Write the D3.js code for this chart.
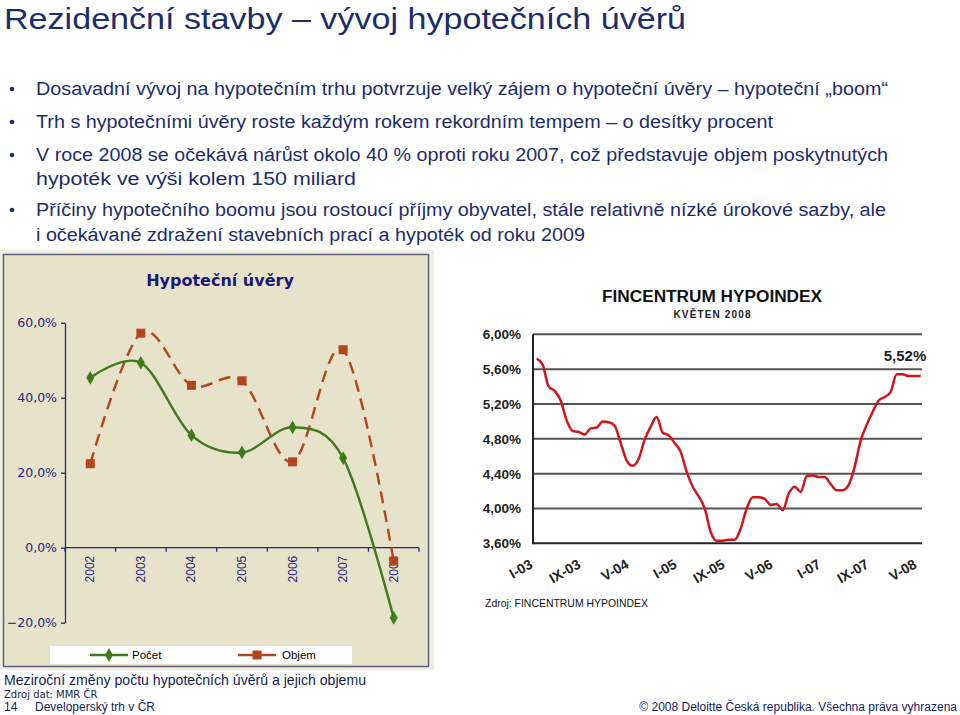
<!DOCTYPE html>
<html><head><meta charset="utf-8">
<script src="https://cdn.jsdelivr.net/npm/d3@7/dist/d3.min.js"></script>
<style>body{margin:0;background:#fff}svg{display:block}</style>
</head><body>
<script>
// ---- data ----
const pageTitle = "Rezidenční stavby – vývoj hypotečních úvěrů";
const bullets = [
  ["Dosavadní vývoj na hypotečním trhu  potvrzuje velký zájem o hypoteční úvěry – hypoteční „boom“"],
  ["Trh s hypotečními úvěry roste každým rokem rekordním tempem – o desítky procent"],
  ["V roce 2008 se očekává nárůst okolo 40 % oproti roku 2007, což představuje objem poskytnutých", "hypoték ve výši kolem 150 miliard"],
  ["Příčiny hypotečního boomu jsou rostoucí příjmy obyvatel, stále relativně nízké úrokové sazby, ale", "i očekávané zdražení stavebních prací a hypoték od roku 2009"]
];
const years = ["2002","2003","2004","2005","2006","2007","2008"];
const pocet = [45.3, 49.3, 30.0, 25.4, 32.1, 23.9, -18.7];
const objem = [22.4, 57.2, 43.3, 44.5, 22.9, 52.8, -3.6];
const leftTicks = [-20, 0, 20, 40, 60];

const hypoMonths = ["I-03","IX-03","V-04","I-05","IX-05","V-06","I-07","IX-07","V-08"];
const hypoTickIdx = [0, 8, 16, 24, 32, 40, 48, 56, 64];
const hypoTicks = [3.6, 4.0, 4.4, 4.8, 5.2, 5.6, 6.0];
const hypoindex = [5.72,5.65,5.40,5.35,5.24,5.01,4.89,4.88,4.85,4.92,4.93,5.00,4.99,4.95,4.75,4.55,
  4.49,4.57,4.79,4.94,5.05,4.87,4.84,4.75,4.65,4.42,4.25,4.14,4.00,3.73,3.63,3.63,3.64,3.64,3.77,4.00,
  4.13,4.13,4.11,4.04,4.05,3.98,4.17,4.25,4.19,4.37,4.38,4.36,4.36,4.28,4.21,4.21,4.27,4.48,4.78,4.96,
  5.11,5.24,5.28,5.34,5.54,5.54,5.52,5.52,5.52];

const W = 960, H = 715;
const svg = d3.select("body").append("svg").attr("width", W).attr("height", H);
const navy = "#1c2c6e";

// ---- header ----
svg.append("text").attr("x", 4).attr("y", 29).attr("font-family", "Liberation Sans, Arial")
  .attr("font-size", 30).attr("fill", navy).attr("textLength", 682).attr("lengthAdjust", "spacingAndGlyphs")
  .text(pageTitle);

const lineY = [[95],[128],[161,185],[216,241]];
const lineW = [[852],[737],[852,320],[850,549]];
bullets.forEach((b, i) => {
  svg.append("circle").attr("cx", 12).attr("cy", lineY[i][0] - 6).attr("r", 2.3).attr("fill", navy);
  b.forEach((t, j) => {
    svg.append("text").attr("x", 36).attr("y", lineY[i][j]).attr("font-family", "Liberation Sans, Arial")
      .attr("font-size", 18).attr("fill", navy)
      .attr("textLength", lineW[i][j]).attr("lengthAdjust", "spacingAndGlyphs").text(t);
  });
});

// ---- left chart ----
const L = svg.append("g");
L.append("rect").attr("x", 0).attr("y", 250).attr("width", 434).attr("height", 420).attr("fill", "#efeee0");
L.append("rect").attr("x", 3.5).attr("y", 254.5).attr("width", 425).attr("height", 412)
  .attr("fill", "#e7e3ca").attr("stroke", "#5f6080").attr("stroke-width", 1.5);
L.append("text").attr("x", 220).attr("y", 286).attr("text-anchor", "middle")
  .attr("font-family", "DejaVu Sans, Verdana").attr("font-weight", "bold").attr("font-size", 16)
  .attr("fill", "#1a1a78").text("Hypoteční úvěry");

const yL = d3.scaleLinear().domain([-20, 60]).range([622.7, 322.7]);
const xL = d3.scaleBand().domain(years).range([65, 419]);
const axisCol = "#25257a";

const yAx = L.append("g").attr("transform", "translate(65,0)")
  .call(d3.axisLeft(yL).tickValues(leftTicks).tickSize(4).tickSizeOuter(0)
    .tickFormat(d => d3.format(".1f")(d).replace(".", ",") + "%"));
yAx.select(".domain").attr("stroke", axisCol).attr("stroke-width", 1.3);
yAx.selectAll(".tick line").attr("stroke", axisCol).attr("stroke-width", 1.3);
yAx.selectAll(".tick text").attr("x", -8).attr("fill", axisCol)
  .attr("font-family", "DejaVu Sans, Verdana").attr("font-size", 12.5);

const xAx = L.append("g").attr("transform", `translate(0,${yL(0)})`);
xAx.append("line").attr("x1", 65).attr("x2", 419).attr("stroke", axisCol).attr("stroke-width", 1.3);
const bounds = years.map(y => xL(y)).concat([xL(years[years.length - 1]) + xL.bandwidth()]);
xAx.selectAll("line.tk").data(bounds).join("line").attr("class", "tk")
  .attr("x1", d => d).attr("x2", d => d).attr("y1", 0).attr("y2", 4)
  .attr("stroke", axisCol).attr("stroke-width", 1.3);
xAx.selectAll("text").data(years).join("text")
  .attr("transform", d => `translate(${xL(d) + xL.bandwidth() / 2 + 4},8) rotate(-90)`)
  .attr("text-anchor", "end").attr("font-family", "Liberation Sans, Arial").attr("font-size", 12)
  .attr("fill", axisCol).text(d => d);

const green = "#3f7a1c", orange = "#b3461d";
const cx = d => xL(d) + xL.bandwidth() / 2;
const lineGen = d3.line().x((d, i) => cx(years[i])).y(d => yL(d)).curve(d3.curveCatmullRom.alpha(0));

L.append("path").attr("d", lineGen(objem)).attr("fill", "none").attr("stroke", orange)
  .attr("stroke-width", 2.4).attr("stroke-dasharray", "12,7");
L.append("path").attr("d", lineGen(pocet)).attr("fill", "none").attr("stroke", green).attr("stroke-width", 2.4);

L.selectAll("rect.sq").data(objem).join("rect").attr("class", "sq")
  .attr("x", (d, i) => cx(years[i]) - 4.5).attr("y", d => yL(d) - 4.5).attr("width", 9).attr("height", 9)
  .attr("fill", orange);
const diamond = d3.symbol().type(d3.symbolDiamond).size(55);
L.selectAll("path.dm").data(pocet).join("path").attr("class", "dm")
  .attr("transform", (d, i) => `translate(${cx(years[i])},${yL(d)})`).attr("d", diamond).attr("fill", green);

// legend
L.append("rect").attr("x", 50).attr("y", 646).attr("width", 302).attr("height", 18).attr("fill", "#fff");
L.append("line").attr("x1", 90).attr("x2", 128).attr("y1", 655).attr("y2", 655).attr("stroke", green).attr("stroke-width", 2.4);
L.append("path").attr("transform", "translate(109,655)").attr("d", diamond).attr("fill", green);
L.append("text").attr("x", 132).attr("y", 659).attr("font-family", "Liberation Sans, Arial").attr("font-size", 11.5).text("Počet");
L.append("line").attr("x1", 238).attr("x2", 276).attr("y1", 655).attr("y2", 655).attr("stroke", orange).attr("stroke-width", 2.4);
L.append("rect").attr("x", 252.5).attr("y", 650.5).attr("width", 9).attr("height", 9).attr("fill", orange);
L.append("text").attr("x", 282).attr("y", 659).attr("font-family", "Liberation Sans, Arial").attr("font-size", 11.5).text("Objem");

// captions
svg.append("text").attr("x", 4).attr("y", 685).attr("font-family", "Liberation Sans, Arial").attr("font-size", 14)
  .attr("fill", "#141c55").attr("textLength", 362).attr("lengthAdjust", "spacingAndGlyphs")
  .text("Meziroční změny počtu hypotečních úvěrů a jejich objemu");
svg.append("text").attr("x", 4).attr("y", 698).attr("font-family", "DejaVu Sans, Verdana").attr("font-size", 10)
  .attr("fill", "#141c55").text("Zdroj dat: MMR ČR");
svg.append("text").attr("x", 4).attr("y", 711).attr("font-family", "Liberation Sans, Arial").attr("font-size", 12)
  .attr("fill", "#141c55").text("14");
svg.append("text").attr("x", 35).attr("y", 711).attr("font-family", "Liberation Sans, Arial").attr("font-size", 12)
  .attr("fill", "#141c55").text("Developerský trh v ČR");
svg.append("text").attr("x", 957).attr("y", 711).attr("text-anchor", "end").attr("font-family", "Liberation Sans, Arial")
  .attr("font-size", 12).attr("fill", "#141c55").text("© 2008 Deloitte Česká republika. Všechna práva vyhrazena");

// ---- right chart ----
const R = svg.append("g");
R.append("text").attr("x", 712).attr("y", 302).attr("text-anchor", "middle").attr("font-family", "Liberation Sans, Arial")
  .attr("font-weight", "bold").attr("font-size", 16).attr("fill", "#111")
  .attr("textLength", 220).attr("lengthAdjust", "spacingAndGlyphs").text("FINCENTRUM HYPOINDEX");
R.append("text").attr("x", 712).attr("y", 318).attr("text-anchor", "middle").attr("font-family", "Liberation Sans, Arial")
  .attr("font-weight", "bold").attr("font-size", 10).attr("fill", "#222")
  .attr("textLength", 77).attr("lengthAdjust", "spacing").text("KVĚTEN 2008");

const yR = d3.scaleLinear().domain([3.6, 6.0]).range([543.3, 334.3]);
const xR = d3.scaleLinear().domain([0, 64]).range([536.7, 920.7]);

R.selectAll("line.grid").data(hypoTicks).join("line").attr("class", "grid")
  .attr("x1", 533).attr("x2", 922).attr("y1", d => yR(d)).attr("y2", d => yR(d))
  .attr("stroke", d => d === 3.6 ? "#222" : "#555").attr("stroke-width", 2);
R.append("line").attr("x1", 533).attr("x2", 533).attr("y1", yR(6.0)).attr("y2", yR(3.6) + 1)
  .attr("stroke", "#222").attr("stroke-width", 2);
R.selectAll("text.yt").data(hypoTicks).join("text").attr("class", "yt")
  .attr("x", 521).attr("y", d => yR(d) + 5).attr("text-anchor", "end")
  .attr("font-family", "Liberation Sans, Arial").attr("font-weight", "bold").attr("font-size", 13.5)
  .attr("fill", "#222").text(d => d3.format(".2f")(d).replace(".", ",") + "%");
R.selectAll("text.xt").data(hypoMonths).join("text").attr("class", "xt")
  .attr("transform", (d, i) => `translate(${xR(hypoTickIdx[i]) - 3},567) rotate(-30)`)
  .attr("text-anchor", "end").attr("font-family", "Liberation Sans, Arial").attr("font-weight", "bold")
  .attr("font-size", 14).attr("fill", "#222").text(d => d);

R.append("path").attr("d", d3.line().x((d, i) => xR(i)).y(d => yR(d)).curve(d3.curveMonotoneX)(hypoindex))
  .attr("fill", "none").attr("stroke", "#d3141c").attr("stroke-width", 2.5).attr("stroke-linejoin", "round");

R.append("text").attr("x", 905).attr("y", 361).attr("text-anchor", "middle").attr("font-family", "Liberation Sans, Arial")
  .attr("font-weight", "bold").attr("font-size", 15).attr("fill", "#222")
  .text(d3.format(".2f")(hypoindex[hypoindex.length - 1]).replace(".", ",") + "%");
R.append("text").attr("x", 485).attr("y", 607).attr("font-family", "Liberation Sans, Arial").attr("font-size", 11)
  .attr("fill", "#111").attr("textLength", 163).attr("lengthAdjust", "spacingAndGlyphs").text("Zdroj: FINCENTRUM HYPOINDEX");
</script>
</body></html>
